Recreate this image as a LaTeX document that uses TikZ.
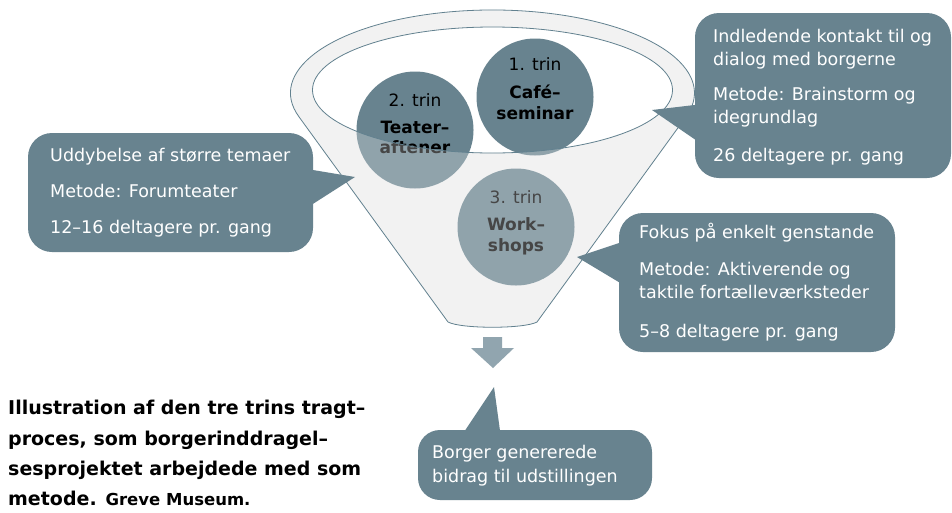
\documentclass[tikz,border=0pt]{standalone}
\usepackage{fontspec}
\setmainfont{DejaVu Sans}
\definecolor{calloutc}{HTML}{68838F}
\definecolor{arrowc}{HTML}{91A5AF}
\definecolor{funnelc}{HTML}{F2F2F2}
\definecolor{edgec}{HTML}{62818F}
\tikzset{
  cbox/.style={rectangle, fill=calloutc, draw=none, rounded corners=24pt, inner sep=0pt},
  ctext/.style={text=white, anchor=base west, inner sep=0pt, font=\fontsize{17.5}{21}\selectfont},
  stage/.style={circle, fill=calloutc, draw=none, minimum size=117pt, inner sep=0pt},
  trinreg/.style={text=black, anchor=base, inner sep=0pt, font=\fontsize{17}{20}\selectfont},
  trinbold/.style={text=black, anchor=base, inner sep=0pt, font=\fontsize{17}{20}\selectfont\bfseries},
  captext/.style={text=black, anchor=base west, inner sep=0pt, font=\fontsize{19}{22}\selectfont\bfseries},
}
\begin{document}
\begin{tikzpicture}[x=1pt,y=-1pt]
\useasboundingbox (0,0) rectangle (952,512);
\fill[white] (0,0) rectangle (952,512);

% funnel body (opaque)
\path[fill=funnelc, even odd rule]
  (298.9,116.7) arc[start angle=196.6, end angle=-16.6, x radius=202pt, y radius=83pt]
  -- (537,322) .. controls (524,329) and (461,329) .. (448,322) -- cycle
  (492.5,90) ellipse[x radius=180pt, y radius=63pt];

% stage circles
\node[stage] (s1) at (535,97) {};
\node[stage] (s2) at (415,130) {};
\node[stage] (s3) at (516,227) {};
\node[trinreg]  (s1a) at (535,70)  {1. trin};
\node[trinbold] (s1b) at (535,98)  {Café–};
\node[trinbold] (s1c) at (535,119) {seminar};
\node[trinreg]  (s2a) at (415,106) {2. trin};
\node[trinbold] (s2b) at (415,133) {Teater–};
\node[trinbold] (s2c) at (415,153) {aftener};
\node[trinreg]  (s3a) at (516,203) {3. trin};
\node[trinbold] (s3b) at (516,230) {Work–};
\node[trinbold] (s3c) at (516,251) {shops};

% funnel body (translucent overlay)
\path[fill=funnelc, fill opacity=0.29, even odd rule]
  (298.9,116.7) arc[start angle=196.6, end angle=-16.6, x radius=202pt, y radius=83pt]
  -- (537,322) .. controls (524,329) and (461,329) .. (448,322) -- cycle
  (492.5,90) ellipse[x radius=180pt, y radius=63pt];

% funnel outlines
\draw[edgec, line width=0.8pt]
  (298.9,116.7) arc[start angle=196.6, end angle=-16.6, x radius=202pt, y radius=83pt]
  -- (537,322) .. controls (524,329) and (461,329) .. (448,322) -- cycle
  (492.5,90) ellipse[x radius=180pt, y radius=63pt];

% down arrow
\fill[arrowc] (483,337) -- (502,337) -- (502,348) -- (514,348) -- (493,368) -- (471,348) -- (483,348) -- cycle;

% left callout
\node[cbox, minimum width=285pt, minimum height=119pt] (boxL) at (170.5,192.5) {};
\coordinate (tipL) at (355,177);
\fill[calloutc] (305,168.7) -- (tipL) -- (305,209) -- cycle;
\node[ctext] (tL1) at (50,161.5) {Uddybelse af større temaer};
\node[ctext] (tL2) at (50,197) {Metode: Forumteater};
\node[ctext] (tL3) at (50,233) {12–16 deltagere pr. gang};

% right top callout
\node[cbox, minimum width=256pt, minimum height=165pt] (boxR) at (823,95.5) {};
\coordinate (tipR) at (652,110);
\fill[calloutc] (703,104) -- (tipR) -- (703,145) -- cycle;
\node[ctext] (tR1) at (713,42)  {Indledende kontakt til og};
\node[ctext] (tR2) at (713,65)  {dialog med borgerne};
\node[ctext] (tR3) at (713,100) {Metode: Brainstorm og};
\node[ctext] (tR4) at (713,123) {idegrundlag};
\node[ctext] (tR5) at (713,161) {26 deltagere pr. gang};

% right bottom callout
\node[cbox, minimum width=276pt, minimum height=139pt] (boxW) at (757,282.5) {};
\coordinate (tipW) at (577,257);
\fill[calloutc] (627,240.4) -- (tipW) -- (627,287) -- cycle;
\node[ctext] (tW1) at (639,238) {Fokus på enkelt genstande};
\node[ctext] (tW2) at (639,275) {Metode: Aktiverende og};
\node[ctext] (tW3) at (639,298) {taktile fortælleværksteder};
\node[ctext] (tW4) at (639,337) {5–8 deltagere pr. gang};

% bottom callout
\node[cbox, minimum width=234pt, minimum height=70pt, rounded corners=22pt] (boxB) at (535,465) {};
\coordinate (tipB) at (494,387);
\fill[calloutc] (460,438) -- (tipB) -- (501,438) -- cycle;
\node[ctext] (tB1) at (432,458) {Borger genererede};
\node[ctext] (tB2) at (432,482) {bidrag til udstillingen};

% caption
\node[captext] (c1) at (8,414) {Illustration af den tre trins tragt–};
\node[captext] (c2) at (8,445) {proces, som borgerinddragel–};
\node[captext] (c3) at (8,475) {sesprojektet arbejdede med som};
\node[captext] (c4) at (8,505) {metode. {\fontsize{16.5}{19}\selectfont Greve Museum.}};
\end{tikzpicture}
\end{document}
